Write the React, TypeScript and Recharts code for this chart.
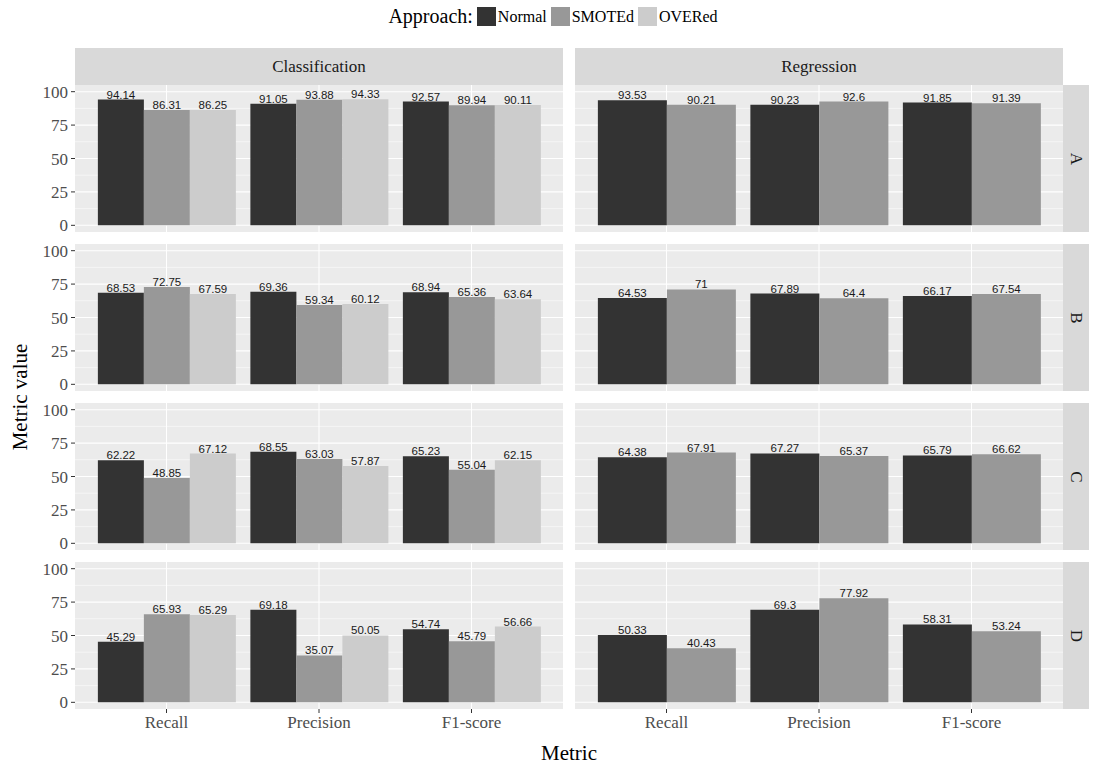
import React from "react";
import {
  BarChart,
  Bar,
  XAxis,
  YAxis,
  CartesianGrid,
  LabelList,
} from "recharts";

const metrics = ["Recall", "Precision", "F1-score"];
const rows = ["A", "B", "C", "D"];
const tasks = ["Classification", "Regression"];
const approaches = ["Normal", "SMOTEd", "OVERed"];
const yTicks = [0, 25, 50, 75, 100];
const yMinor = [12.5, 37.5, 62.5, 87.5];

// one inner array per row (A..D), values in metric order
const classificationNormal = [
  [94.14, 91.05, 92.57],
  [68.53, 69.36, 68.94],
  [62.22, 68.55, 65.23],
  [45.29, 69.18, 54.74],
];
const classificationSmoted = [
  [86.31, 93.88, 89.94],
  [72.75, 59.34, 65.36],
  [48.85, 63.03, 55.04],
  [65.93, 35.07, 45.79],
];
const classificationOvered = [
  [86.25, 94.33, 90.11],
  [67.59, 60.12, 63.64],
  [67.12, 57.87, 62.15],
  [65.29, 50.05, 56.66],
];
const regressionNormal = [
  [93.53, 90.23, 91.85],
  [64.53, 67.89, 66.17],
  [64.38, 67.27, 65.79],
  [50.33, 69.3, 58.31],
];
const regressionSmoted = [
  [90.21, 92.6, 91.39],
  [71, 64.4, 67.54],
  [67.91, 65.37, 66.62],
  [40.43, 77.92, 53.24],
];

const colors: Record<string, string> = {
  Normal: "#333333",
  SMOTEd: "#989898",
  OVERed: "#CCCCCC",
};

const SERIF = "'Liberation Serif', 'Times New Roman', serif";
const SANS = "'Liberation Sans', Arial, sans-serif";

const PANEL_W = 488;
const PANEL_H = 147;
const COL_LEFT = [75, 575];
const ROW_TOP = [85, 244, 403, 562];
const Y_AXIS_W = 45;
const X_AXIS_H = 32;
const EDGE = 10; // room above/below the panel so edge tick labels are not clipped

function panelData(task: string, r: number) {
  return metrics.map((m, i) => {
    if (task === "Classification") {
      return {
        metric: m,
        Normal: classificationNormal[r][i],
        SMOTEd: classificationSmoted[r][i],
        OVERed: classificationOvered[r][i],
      };
    }
    return {
      metric: m,
      Normal: regressionNormal[r][i],
      SMOTEd: regressionSmoted[r][i],
    };
  });
}

function Panel({ task, r }: { task: string; r: number }) {
  const col = tasks.indexOf(task);
  const showY = col === 0;
  const showX = r === rows.length - 1;
  const series = task === "Classification" ? approaches : approaches.slice(0, 2);
  const width = PANEL_W + (showY ? Y_AXIS_W : 0);
  const height = PANEL_H + (showX ? X_AXIS_H : EDGE) + EDGE;
  const pad = PANEL_W / 32;

  return (
    <div
      style={{
        position: "absolute",
        left: COL_LEFT[col] - (showY ? Y_AXIS_W : 0),
        top: ROW_TOP[r] - EDGE,
      }}
    >
      <BarChart
        width={width}
        height={height}
        data={panelData(task, r)}
        margin={{ top: EDGE, right: 0, bottom: showX ? 0 : EDGE, left: 0 }}
        barCategoryGap="5%"
        barGap={0}
      >
        <CartesianGrid
          fill="#EBEBEB"
          stroke="#F5F5F5"
          strokeWidth={1}
          vertical={false}
          horizontalValues={yMinor}
        />
        <CartesianGrid
          stroke="#FFFFFF"
          strokeWidth={1.1}
          horizontalValues={yTicks}
          verticalValues={metrics}
        />
        <XAxis
          dataKey="metric"
          hide={!showX}
          height={showX ? X_AXIS_H : 0}
          padding={{ left: pad, right: pad }}
          axisLine={false}
          tickLine={{ stroke: "#333333" }}
          tickSize={4}
          tickMargin={3}
          tick={{ fontSize: 17, fontFamily: SERIF, fill: "#4D4D4D" }}
          interval={0}
        />
        <YAxis
          type="number"
          domain={[-5, 105]}
          ticks={yTicks}
          interval={0}
          allowDataOverflow
          hide={!showY}
          width={showY ? Y_AXIS_W : 0}
          axisLine={false}
          tickLine={{ stroke: "#333333" }}
          tickSize={4}
          tickMargin={3}
          tick={{ fontSize: 17, fontFamily: SERIF, fill: "#4D4D4D" }}
        />
        {series.map((s) => (
          <Bar key={s} dataKey={s} fill={colors[s]} isAnimationActive={false}>
            <LabelList
              dataKey={s}
              position="top"
              offset={1}
              fill="#1A1A1A"
              fontSize={11.5}
              fontFamily={SANS}
            />
          </Bar>
        ))}
      </BarChart>
    </div>
  );
}

function Legend() {
  return (
    <div
      style={{
        position: "absolute",
        left: 0,
        width: 1110,
        top: 5,
        display: "flex",
        justifyContent: "center",
        alignItems: "center",
        fontFamily: SERIF,
        color: "#000",
      }}
    >
      <span style={{ fontSize: 20, marginRight: 4 }}>Approach:</span>
      {approaches.map((a) => (
        <span key={a} style={{ display: "flex", alignItems: "center" }}>
          <span
            style={{
              display: "inline-block",
              width: 19,
              height: 19,
              background: colors[a],
              marginRight: 2,
            }}
          />
          <span style={{ fontSize: 16, marginRight: 4 }}>{a}</span>
        </span>
      ))}
    </div>
  );
}

export default function App() {
  return (
    <div
      style={{
        position: "absolute",
        left: 0,
        top: 0,
        width: 1095,
        height: 765,
        background: "#FFFFFF",
        overflow: "hidden",
      }}
    >
      <Legend />
      {tasks.map((t, c) => (
        <div
          key={t}
          style={{
            position: "absolute",
            left: COL_LEFT[c],
            top: 48,
            width: PANEL_W,
            height: 37,
            background: "#D9D9D9",
            display: "flex",
            alignItems: "center",
            justifyContent: "center",
            fontFamily: SERIF,
            fontSize: 17,
            color: "#1A1A1A",
          }}
        >
          {t}
        </div>
      ))}
      {rows.map((row, r) => (
        <div
          key={row}
          style={{
            position: "absolute",
            left: 1063,
            top: ROW_TOP[r],
            width: 26,
            height: PANEL_H,
            background: "#D9D9D9",
            display: "flex",
            alignItems: "center",
            justifyContent: "center",
            fontFamily: SERIF,
            fontSize: 17,
            color: "#1A1A1A",
          }}
        >
          <span style={{ transform: "rotate(90deg)", display: "inline-block" }}>
            {row}
          </span>
        </div>
      ))}
      {rows.map((row, r) =>
        tasks.map((t) => <Panel key={row + t} task={t} r={r} />)
      )}
      <div
        style={{
          position: "absolute",
          left: COL_LEFT[0],
          width: COL_LEFT[1] + PANEL_W - COL_LEFT[0],
          top: 741,
          textAlign: "center",
          fontFamily: SERIF,
          fontSize: 21,
          color: "#000",
        }}
      >
        Metric
      </div>
      <div
        style={{
          position: "absolute",
          left: 20,
          top: 397,
          transform: "translate(-50%, -50%) rotate(-90deg)",
          fontFamily: SERIF,
          fontSize: 21,
          color: "#000",
          whiteSpace: "nowrap",
        }}
      >
        Metric value
      </div>
    </div>
  );
}
